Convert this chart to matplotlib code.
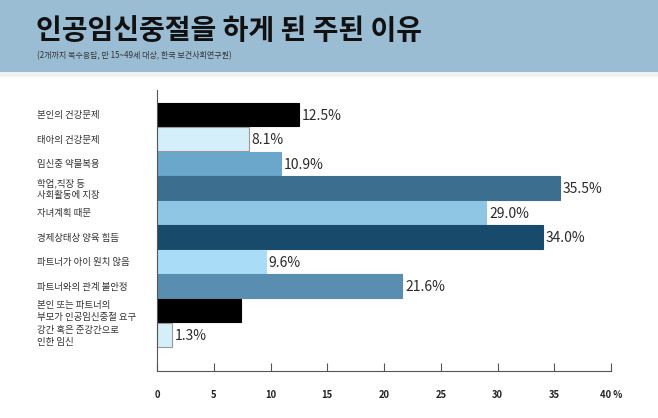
import matplotlib.pyplot as plt
from matplotlib.patches import Rectangle

plt.rcParams['font.family'] = ['Noto Sans CJK KR', 'DejaVu Sans']

# data
labels = ['본인의 건강문제', '태아의 건강문제', '임신중 약물복용', '학업,직장 등\n사회활동에 지장',
          '자녀계획 때문', '경제상태상 양육 힘듬', '파트너가 아이 원치 않음', '파트너와의 관계 불안정',
          '본인 또는 파트너의\n부모가 인공임신중절 요구', '강간 혹은 준강간으로\n인한 임신']
values = [12.5, 8.1, 10.9, 35.5, 29.0, 34.0, 9.6, 21.6, 7.4, 1.3]
value_text = ['12.5%', '8.1%', '10.9%', '35.5%', '29.0%', '34.0%', '9.6%', '21.6%', '', '1.3%']
colors = ['#000000', '#d4eefa', '#6aa7ca', '#3c6e8f', '#8fc6e4', '#174a6b', '#a9dcf6', '#5a8eb0',
          '#000000', '#d4eefa']
xticks = [0, 5, 10, 15, 20, 25, 30, 35, 40]
xtick_labels = ['0', '5', '10', '15', '20', '25', '30', '35', '40 %']

W, H = 658, 418
fig = plt.figure(figsize=(W / 100, H / 100), dpi=100)

# header band
fig.patches.append(Rectangle((0, 1 - 72 / H), 1, 72 / H, transform=fig.transFigure,
                             facecolor='#9bbdd4', edgecolor='none', zorder=0))
fig.patches.append(Rectangle((0, 1 - 77 / H), 1, 5 / H, transform=fig.transFigure,
                             facecolor='#f0f2f4', edgecolor='none', zorder=0))
fig.text(36 / W, 1 - 31 / H, '인공임신중절을 하게 된 주된 이유', fontsize=20.2, fontweight='bold',
         color='#111111', va='center', ha='left')
fig.text(37 / W, 1 - 56 / H, '(2개까지 복수응답, 만 15~49세 대상, 한국 보건사회연구원)', fontsize=5.8,
         color='#333333', va='center', ha='left')

left, right = 157 / W, 611 / W
bottom, top = 1 - 371 / H, 1 - 90 / H
ax = fig.add_axes([left, bottom, right - left, top - bottom])

y = list(range(len(values)))
edges = ['#9a9a9a' if c == '#d4eefa' else c for c in colors]
ax.barh(y, values, height=0.94, color=colors, edgecolor=edges, linewidth=0.8)
for i, (v, t) in enumerate(zip(values, value_text)):
    if t:
        ax.text(v + 0.25, i + 0.05, t, va='center', ha='left', fontsize=10, color='#2a2a2a')

ax.set_xlim(0, 40)
ax.set_ylim(10.47, -1.0)
ax.set_yticks([])
for s in ['top', 'right']:
    ax.spines[s].set_visible(False)
ax.spines['left'].set_color('#555555')
ax.spines['bottom'].set_color('#555555')
ax.spines['left'].set_linewidth(0.8)
ax.spines['bottom'].set_linewidth(0.8)
ax.set_xticks(xticks)
ax.set_xticklabels(xtick_labels, fontsize=6.8, fontweight='bold', color='#222222')
ax.tick_params(axis='x', direction='in', length=6, width=0.8, color='#555555', pad=14)

# category labels, left aligned
for i, lab in enumerate(labels):
    ax.text(-120 / 11.35, i + 0.05, lab, va='center', ha='left', fontsize=6.8, color='#333333',
            linespacing=1.45)

fig.savefig('out.png', dpi=100)
